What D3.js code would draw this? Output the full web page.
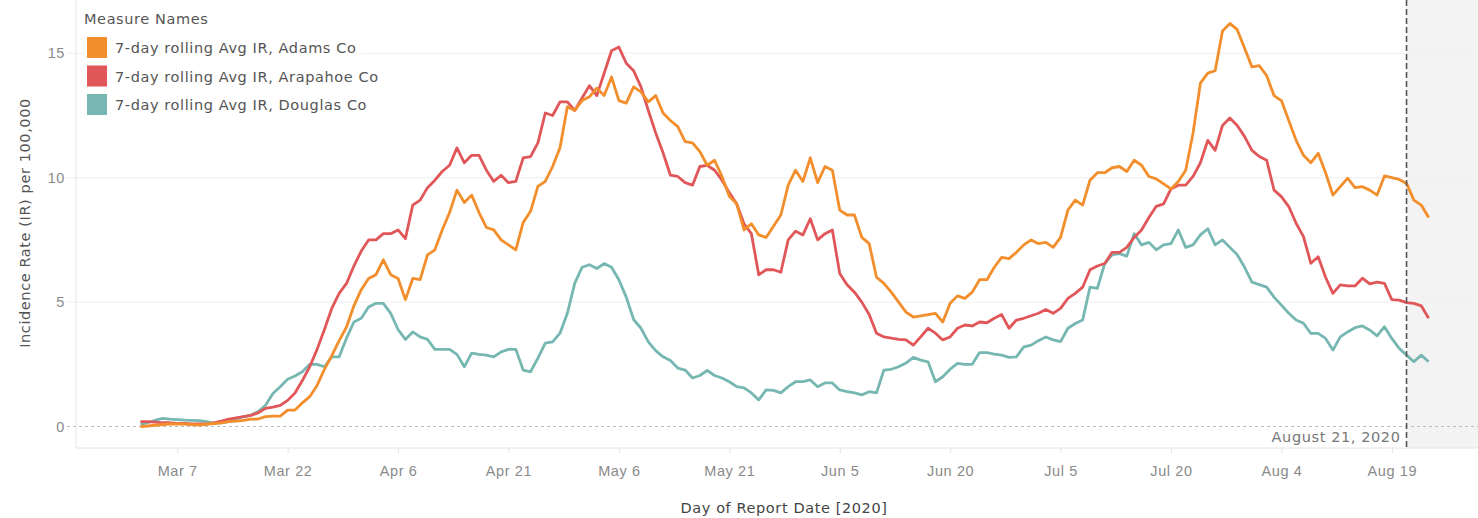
<!DOCTYPE html>
<html>
<head>
<meta charset="utf-8">
<style>
  body { margin: 0; background: #fff; }
  svg { font-family: "DejaVu Sans", sans-serif; letter-spacing: 0.6px; }
  .grid line { stroke: #efefef; }
  .zero { stroke: #bdbdbd; stroke-dasharray: 3 3; }
  .axis-line { stroke: #e4e4e4; }
  .tick-label { fill: #8a8a8a; font-size: 14.5px; }
  .axis-title { fill: #555; font-size: 14.5px; }
  .legend text { fill: #555; font-size: 14.5px; }
</style>
</head>
<body>
<svg id="chart" width="1478" height="518"></svg>
<script src="https://cdnjs.cloudflare.com/ajax/libs/d3/7.8.5/d3.min.js"></script>
<script>
// daily values, first point is Mar 2 2020, last is Aug 24 2020
const firstDay = "2020-03-02"

const adams = [
  0.0, 0.02, 0.05, 0.08, 0.1, 0.1, 0.1, 0.08, 0.06, 0.1,
  0.12, 0.15, 0.2, 0.22, 0.25, 0.3, 0.3, 0.4, 0.42, 0.42,
  0.66, 0.66, 0.95, 1.2, 1.65, 2.3, 2.85, 3.45, 4.0, 4.85,
  5.5, 5.95, 6.1, 6.7, 6.1, 5.95, 5.1, 5.95, 5.9, 6.9,
  7.1, 7.9, 8.6, 9.5, 9.0, 9.3, 8.6, 8.0, 7.9, 7.5,
  7.3, 7.1, 8.2, 8.65, 9.65, 9.85, 10.45, 11.2, 12.85, 12.7,
  13.1, 13.25, 13.6, 13.3, 14.05, 13.1, 13.0, 13.65, 13.45, 13.05,
  13.3, 12.6, 12.3, 12.05, 11.45, 11.4, 11.05, 10.5, 10.7, 10.05,
  9.25, 8.95, 7.9, 8.15, 7.7, 7.6, 8.05, 8.5, 9.7, 10.3,
  9.85, 10.8, 9.8, 10.45, 10.3, 8.7, 8.5, 8.5, 7.6, 7.35,
  6.0, 5.75, 5.4, 5.0, 4.6, 4.4, 4.45, 4.5, 4.55, 4.2,
  4.95, 5.25, 5.15, 5.4, 5.9, 5.9, 6.4, 6.8, 6.75, 7.0,
  7.3, 7.5, 7.35, 7.4, 7.2, 7.6, 8.7, 9.1, 8.9, 9.9,
  10.2, 10.2, 10.4, 10.45, 10.25, 10.7, 10.5, 10.05, 9.95, 9.75,
  9.55, 9.85, 10.3, 11.8, 13.8, 14.2, 14.3, 15.9, 16.2, 15.95,
  15.2, 14.45, 14.5, 14.1, 13.3, 13.1, 12.3, 11.5, 10.9, 10.6,
  10.98, 10.2, 9.3, 9.64, 9.98, 9.6, 9.64, 9.5, 9.3, 10.07,
  10.0, 9.93, 9.77, 9.1, 8.9, 8.4
]

const arapahoe = [
  0.2, 0.2, 0.18, 0.15, 0.15, 0.12, 0.12, 0.1, 0.1, 0.1,
  0.15, 0.22, 0.3, 0.35, 0.4, 0.45, 0.55, 0.73, 0.78, 0.85,
  1.05, 1.35, 1.85, 2.4, 3.1, 3.9, 4.75, 5.35, 5.75, 6.45,
  7.05, 7.5, 7.5, 7.75, 7.75, 7.9, 7.55, 8.9, 9.1, 9.6,
  9.9, 10.25, 10.5, 11.2, 10.6, 10.9, 10.9, 10.3, 9.85, 10.1,
  9.8, 9.85, 10.8, 10.85, 11.4, 12.6, 12.5, 13.05, 13.05, 12.7,
  13.2, 13.7, 13.3, 14.2, 15.1, 15.25, 14.6, 14.3, 13.65, 12.7,
  11.8, 11.0, 10.1, 10.05, 9.8, 9.7, 10.45, 10.5, 10.3, 9.9,
  9.4, 8.95, 8.15, 7.75, 6.1, 6.3, 6.3, 6.2, 7.5, 7.85,
  7.7, 8.35, 7.5, 7.75, 7.9, 6.15, 5.7, 5.4, 5.0, 4.5,
  3.75, 3.6, 3.55, 3.5, 3.48, 3.27, 3.6, 3.95, 3.75, 3.48,
  3.6, 3.95, 4.08, 4.04, 4.2, 4.17, 4.35, 4.5, 3.95, 4.28,
  4.35, 4.45, 4.55, 4.7, 4.55, 4.75, 5.15, 5.35, 5.6, 6.3,
  6.45, 6.55, 7.0, 7.0, 7.2, 7.6, 7.9, 8.4, 8.85, 8.95,
  9.55, 9.7, 9.7, 10.05, 10.6, 11.5, 11.1, 12.1, 12.4, 12.1,
  11.65, 11.1, 10.85, 10.7, 9.5, 9.24, 8.84, 8.17, 7.63, 6.56,
  6.82, 6.0, 5.35, 5.69, 5.65, 5.65, 5.96, 5.73, 5.8, 5.75,
  5.1, 5.08, 4.98, 4.95, 4.85, 4.35
]

const douglas = [
  0.1, 0.15, 0.25, 0.33, 0.3, 0.28, 0.26, 0.25, 0.24, 0.2,
  0.14, 0.15, 0.2, 0.3, 0.4, 0.45, 0.6, 0.85, 1.33, 1.6,
  1.9, 2.03, 2.2, 2.5, 2.5, 2.4, 2.8, 2.8, 3.55, 4.2,
  4.35, 4.8, 4.95, 4.95, 4.55, 3.9, 3.5, 3.8, 3.6, 3.5,
  3.1, 3.1, 3.1, 2.9, 2.4, 2.95, 2.9, 2.87, 2.8, 3.0,
  3.1, 3.1, 2.27, 2.2, 2.75, 3.35, 3.4, 3.75, 4.55, 5.75,
  6.4, 6.5, 6.35, 6.55, 6.4, 5.9, 5.2, 4.3, 3.95, 3.4,
  3.05, 2.8, 2.65, 2.35, 2.27, 1.95, 2.05, 2.25, 2.05, 1.95,
  1.8, 1.6, 1.55, 1.35, 1.07, 1.47, 1.45, 1.35, 1.6, 1.8,
  1.8, 1.87, 1.6, 1.75, 1.75, 1.47, 1.4, 1.35, 1.27, 1.4,
  1.35, 2.27, 2.3, 2.4, 2.55, 2.78, 2.67, 2.6, 1.8, 2.0,
  2.3, 2.54, 2.5, 2.5, 2.97, 2.97, 2.91, 2.87, 2.78, 2.8,
  3.2, 3.27, 3.45, 3.6, 3.48, 3.41, 3.95, 4.14, 4.28, 5.6,
  5.55, 6.55, 6.9, 6.95, 6.85, 7.75, 7.3, 7.4, 7.1, 7.3,
  7.35, 7.9, 7.2, 7.3, 7.7, 7.95, 7.3, 7.5, 7.2, 6.9,
  6.4, 5.8, 5.7, 5.6, 5.2, 4.88, 4.55, 4.28, 4.15, 3.74,
  3.74, 3.54, 3.07, 3.6, 3.8, 3.97, 4.04, 3.88, 3.64, 4.01,
  3.54, 3.14, 2.87, 2.6, 2.87, 2.6
]

const seriesNames = [
  "7-day rolling Avg IR, Adams Co",
  "7-day rolling Avg IR, Arapahoe Co",
  "7-day rolling Avg IR, Douglas Co"
]
const seriesColors = ["#f28e2b", "#e15759", "#76b7b2"]

const xTickDates = ["2020-03-07", "2020-03-22", "2020-04-06", "2020-04-21", "2020-05-06", "2020-05-21",
                    "2020-06-05", "2020-06-20", "2020-07-05", "2020-07-20", "2020-08-04", "2020-08-19"]
const yTicks = [0, 5, 10, 15]
const refDate = "2020-08-21"
const refLabel = "August 21, 2020"

// layout
const width = 1478, height = 518
const plot = {left: 76, right: 1478, top: 0, bottom: 448}

const svg = d3.select("#chart")
const parse = d3.utcParse("%Y-%m-%d")
const day0 = parse(firstDay)

const x = d3.scaleUtc()
  .domain([new Date(Date.UTC(2020, 1, 22, 6)), new Date(Date.UTC(2020, 7, 30, 17))])
  .range([plot.left, plot.right])

const y = d3.scaleLinear()
  .domain([-0.864, 17.142])
  .range([plot.bottom, plot.top])

// shaded area after the reference date
let refX = x(parse(refDate))
svg.append("rect")
  .attr("x", refX).attr("y", plot.top)
  .attr("width", plot.right - refX).attr("height", plot.bottom - plot.top)
  .attr("fill", "#f3f3f3")

// gridlines
svg.append("g").attr("class", "grid")
  .selectAll("line")
  .data(yTicks.filter(d => d > 0))
  .enter().append("line")
    .attr("x1", plot.left - 9).attr("x2", plot.right)
    .attr("y1", d => y(d)).attr("y2", d => y(d))

svg.append("line").attr("class", "zero")
  .attr("x1", plot.left - 9).attr("x2", plot.right)
  .attr("y1", y(0)).attr("y2", y(0))

// axis lines
svg.append("line").attr("class", "axis-line")
  .attr("x1", plot.left).attr("x2", plot.left)
  .attr("y1", plot.top).attr("y2", plot.bottom)
svg.append("line").attr("class", "axis-line")
  .attr("x1", plot.left).attr("x2", plot.right)
  .attr("y1", plot.bottom).attr("y2", plot.bottom)

// y axis
let yAxis = svg.append("g")
  .attr("transform", `translate(${plot.left},0)`)
  .call(d3.axisLeft(y).tickValues(yTicks).tickSize(0).tickPadding(11))
yAxis.select(".domain").remove()
yAxis.selectAll("text").attr("class", "tick-label").attr("font-family", null).attr("font-size", null)

// x axis
let xAxis = svg.append("g")
  .attr("transform", `translate(0,${plot.bottom})`)
  .call(d3.axisBottom(x).tickValues(xTickDates.map(parse)).tickFormat(d3.utcFormat("%b %-d")).tickSize(5).tickPadding(13))
xAxis.select(".domain").remove()
xAxis.selectAll("line").attr("stroke", "#e4e4e4")
xAxis.selectAll("text").attr("class", "tick-label").attr("font-family", null).attr("font-size", null)

// axis titles
svg.append("text").attr("class", "axis-title")
  .attr("transform", `translate(30,223) rotate(-90)`)
  .attr("text-anchor", "middle")
  .text("Incidence Rate (IR) per 100,000")

svg.append("text").attr("class", "axis-title")
  .attr("x", 784).attr("y", 513)
  .attr("text-anchor", "middle")
  .style("fill", "#444")
  .text("Day of Report Date [2020]")

// lines
const allSeries = [adams, arapahoe, douglas]
let line = d3.line()
  .x((d, i) => x(d3.utcDay.offset(day0, i)))
  .y(d => y(d))

svg.append("g")
  .selectAll("path")
  .data([2, 1, 0])
  .enter().append("path")
    .attr("d", k => line(allSeries[k]))
    .attr("fill", "none")
    .attr("stroke", k => seriesColors[k])
    .attr("stroke-width", 2.8)
    .attr("stroke-linejoin", "round")

// reference line
svg.append("line")
  .attr("x1", refX).attr("x2", refX)
  .attr("y1", plot.top).attr("y2", plot.bottom)
  .attr("stroke", "#555").attr("stroke-width", 1.6)
  .attr("stroke-dasharray", "6 3")

svg.append("text")
  .attr("x", refX - 6).attr("y", 442)
  .attr("text-anchor", "end")
  .attr("fill", "#777").attr("font-size", "14.5px")
  .text(refLabel)

// legend
let legend = svg.append("g").attr("class", "legend")
legend.append("text").attr("x", 84).attr("y", 24).style("fill", "#555").text("Measure Names")

let items = legend.selectAll(".item")
  .data(seriesNames)
  .enter().append("g")
    .attr("class", "item")
    .attr("transform", (d, i) => `translate(87,${37 + i * 28.5})`)

items.append("rect").attr("class", "bg")
  .attr("x", -3).attr("y", -3).attr("height", 27).attr("fill", "#fff")
items.append("rect")
  .attr("width", 20).attr("height", 21)
  .attr("fill", (d, i) => seriesColors[i])
items.append("text")
  .attr("x", 28).attr("y", 16)
  .text(d => d)
items.select(".bg").attr("width", function() {
  return this.parentNode.querySelector("text").getComputedTextLength() + 36
})
</script>
</body>
</html>
